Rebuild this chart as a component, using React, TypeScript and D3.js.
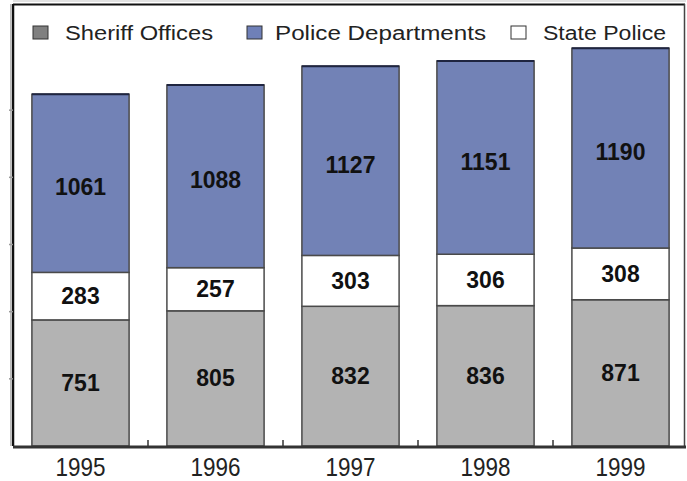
import React from "react";
import * as d3 from "d3";

const years = ["1995", "1996", "1997", "1998", "1999"];
const sheriffOffices = [751, 805, 832, 836, 871];
const statePolice = [283, 257, 303, 306, 308];
const policeDepartments = [1061, 1088, 1127, 1151, 1190];
const seriesNames = ["Sheriff Offices", "Police Departments", "State Police"];
const yTickValues = [0, 400, 800, 1200, 1600, 2000];

const W = 687;
const H = 481;
const left = 13;
const right = 688;
const bottom = 446;
const FONT = "'Liberation Sans', Arial, Helvetica, sans-serif";

const COLORS: Record<string, string> = {
  "Sheriff Offices": "#b3b3b3",
  "State Police": "#ffffff",
  "Police Departments": "#7282b6",
};
const LEGEND_SWATCH: Record<string, string> = {
  "Sheriff Offices": "#808080",
  "Police Departments": "#6f80b8",
  "State Police": "#ffffff",
};
// legend layout: swatch x, text x, text width
const legendLayout = [
  { sx: 33, tx: 65, tw: 148 },
  { sx: 247, tx: 275, tw: 211 },
  { sx: 511, tx: 543, tw: 123 },
];

export default function App() {
  const x = d3.scaleBand<string>().domain(years).range([left, right]).paddingInner(0.28).paddingOuter(0.14);
  const y = d3.scaleLinear().domain([0, 2400]).range([bottom, 43]);

  const rows = years.map((yr, i) => ({
    year: yr,
    "Sheriff Offices": sheriffOffices[i],
    "State Police": statePolice[i],
    "Police Departments": policeDepartments[i],
  }));
  const stack = d3.stack<any>().keys(["Sheriff Offices", "State Police", "Police Departments"]);
  const series = stack(rows);

  const step = x.step();
  const boundaries = years.slice(1).map((yr) => (x(yr) as number) - x.paddingOuter() * step);

  return (
    <svg width={W} height={H} style={{ position: "absolute", left: 0, top: 0, background: "#fff" }}>
      <rect x={0} y={0} width={W} height={H} fill="#fff" />
      {/* frame */}
      <line x1={left} x2={686} y1={1} y2={1} stroke="#d9d9d9" strokeWidth={1.5} />
      <line x1={left} x2={685} y1={4.5} y2={4.5} stroke="#111" strokeWidth={2} />
      <line x1={684.5} x2={684.5} y1={4} y2={bottom} stroke="#444" strokeWidth={1.5} />
      <line x1={10.5} x2={10.5} y1={4} y2={bottom} stroke="#bbb" strokeWidth={1} />

      {/* legend */}
      {seriesNames.map((name, i) => (
        <g key={name}>
          <rect
            x={legendLayout[i].sx}
            y={26}
            width={15}
            height={13}
            fill={LEGEND_SWATCH[name]}
            stroke="#333"
            strokeWidth={1}
          />
          <text
            x={legendLayout[i].tx}
            y={39.5}
            fontFamily={FONT}
            fontSize={20}
            fill="#222"
            textLength={legendLayout[i].tw}
            lengthAdjust="spacingAndGlyphs"
          >
            {name}
          </text>
        </g>
      ))}

      {/* bars */}
      {series.map((s) => (
        <g key={s.key}>
          {s.map((d, i) => {
            const x0 = x(years[i]) as number;
            const y0 = y(d[1]);
            const h = y(d[0]) - y(d[1]);
            return (
              <g key={i}>
                <rect
                  x={x0}
                  y={y0}
                  width={x.bandwidth()}
                  height={h}
                  fill={COLORS[s.key]}
                  stroke="#4a4a4a"
                  strokeWidth={1.5}
                />
                {s.key === "Police Departments" && (
                  <line x1={x0} x2={x0 + x.bandwidth()} y1={y0} y2={y0} stroke="#1f2540" strokeWidth={2} />
                )}
                <text
                  x={x0 + x.bandwidth() / 2}
                  y={y0 + h / 2 + (s.key === "Police Departments" ? 4 : 0)}
                  textAnchor="middle"
                  dominantBaseline="central"
                  fontFamily={FONT}
                  fontWeight="bold"
                  fontSize={23}
                  fill="#111"
                >
                  {d[1] - d[0]}
                </text>
              </g>
            );
          })}
        </g>
      ))}

      {/* y axis */}
      <line x1={left} x2={left} y1={4} y2={bottom} stroke="#111" strokeWidth={2.5} />
      {yTickValues.slice(1).map((t) => (
        <line key={t} x1={9} x2={left} y1={y(t)} y2={y(t)} stroke="#999" strokeWidth={1.5} />
      ))}

      {/* x axis */}
      <line x1={left} x2={686} y1={bottom + 1} y2={bottom + 1} stroke="#333" strokeWidth={3} />
      {boundaries.map((b, i) => (
        <line key={i} x1={b} x2={b} y1={bottom} y2={bottom - 6} stroke="#333" strokeWidth={1.5} />
      ))}
      {years.map((yr) => (
        <text
          key={yr}
          x={(x(yr) as number) + x.bandwidth() / 2}
          y={476}
          textAnchor="middle"
          fontFamily={FONT}
          fontSize={25}
          fill="#222"
          textLength={50}
          lengthAdjust="spacingAndGlyphs"
        >
          {yr}
        </text>
      ))}
    </svg>
  );
}
